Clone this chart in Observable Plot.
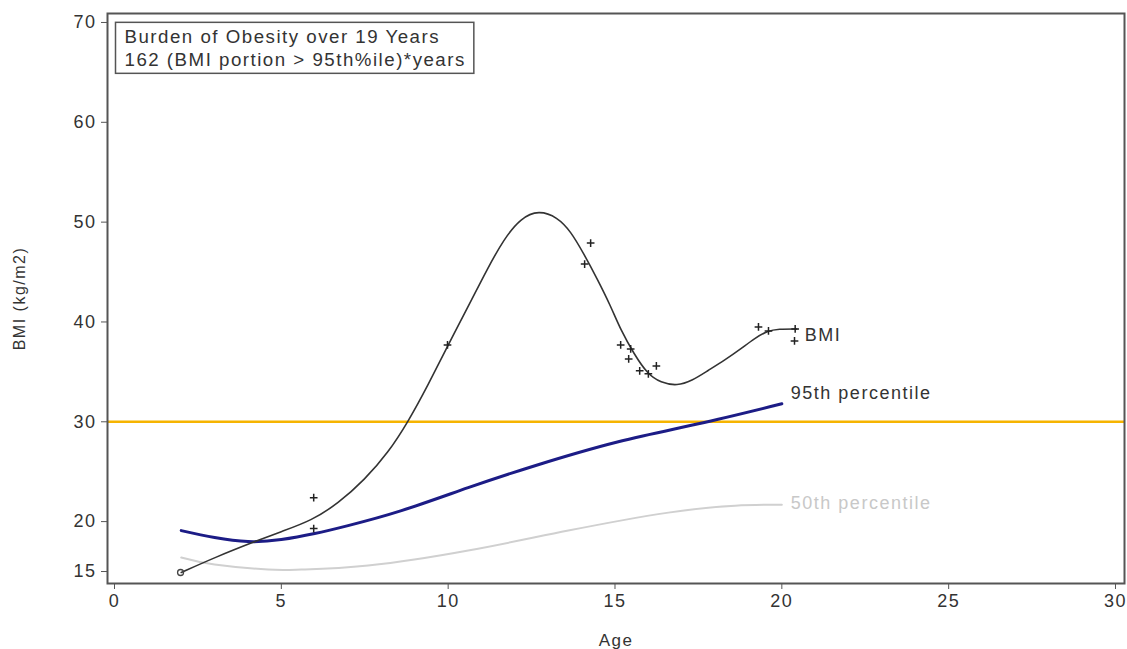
<!DOCTYPE html>
<html>
<head>
<meta charset="utf-8">
<script src="https://cdn.jsdelivr.net/npm/d3@7"></script>
<script src="https://cdn.jsdelivr.net/npm/@observablehq/plot@0.6"></script>
<style>
  html, body { margin: 0; padding: 0; background: #fff; }
  #chart svg { font-family: "Liberation Sans", Arial, sans-serif; }
</style>
</head>
<body>
<div id="chart"></div>
<script>
// BMI fitted curve (age, BMI)
const bmiCurveAge = [2.0, 3.0, 4.2, 5.0, 5.9, 6.7, 7.5, 8.2, 8.8, 9.4, 10.0, 10.67, 11.17, 11.67, 12.17, 12.72, 13.27, 13.67, 14.07, 14.47, 14.87, 15.17, 15.57, 15.97, 16.37, 16.87, 17.3, 17.77, 18.3, 18.77, 19.2, 19.57, 19.9, 20.45];
const bmiCurveVal = [14.9, 16.4, 18.0, 19.0, 20.1, 21.8, 24.2, 26.9, 30.0, 33.7, 37.7, 42.0, 45.3, 48.3, 50.4, 51.2, 50.5, 49.1, 46.8, 44.3, 41.6, 39.2, 36.8, 34.8, 33.9, 33.6, 34.1, 35.1, 36.2, 37.3, 38.4, 39.1, 39.3, 39.3];

// observed BMI measurements
const obsAge = [5.97, 5.97, 9.98, 14.09, 14.27, 15.17, 15.47, 15.41, 15.74, 16.0, 16.24, 19.3, 19.6, 20.4, 20.38];
const obsBMI = [22.4, 19.3, 37.7, 45.8, 47.9, 37.7, 37.3, 36.3, 35.1, 34.8, 35.6, 39.5, 39.1, 39.3, 38.1];
const firstAge = [1.98];
const firstBMI = [14.9];

// 95th percentile
const p95Age = [2.0, 3.0, 4.0, 5.0, 6.0, 7.0, 8.6, 10.6, 12.6, 15.1, 17.5, 20.0];
const p95Val = [19.1, 18.4, 18.0, 18.2, 18.8, 19.6, 21.1, 23.4, 25.6, 28.0, 29.8, 31.8];

// 50th percentile
const p50Age = [2.0, 3.0, 4.6, 5.6, 7.6, 10.6, 13.6, 16.6, 18.6, 20.0];
const p50Val = [16.4, 15.7, 15.2, 15.2, 15.6, 17.1, 19.1, 20.9, 21.6, 21.7];

const threshold = [30];
const xTicks = [0, 5, 10, 15, 20, 25, 30];
const yTicks = [15, 20, 30, 40, 50, 60, 70];
const annotation = "Burden of Obesity over 19 Years\n162 (BMI portion > 95th%ile)*years";

const zip = (a, b) => a.map((x, i) => ({age: x, v: b[i]}));
const bmiCurve = zip(bmiCurveAge, bmiCurveVal);
const obs = zip(obsAge, obsBMI);
const first = zip(firstAge, firstBMI);
const p95 = zip(p95Age, p95Val);
const p50 = zip(p50Age, p50Val);

const plot = Plot.plot({
  width: 1127,
  height: 649,
  marginTop: 13,
  marginRight: 3,
  marginBottom: 66,
  marginLeft: 107,
  style: {fontSize: "18px", letterSpacing: "1.5px", color: "#333", background: "#fff"},
  x: {domain: [-0.21, 30.27]},
  y: {domain: [13.8, 70.9]},
  marks: [
    Plot.ruleY(threshold, {stroke: "#f6b400", strokeWidth: 2.5}),
    Plot.line(p50, {x: "age", y: "v", stroke: "#d0d0d0", strokeWidth: 2, curve: "natural"}),
    Plot.line(p95, {x: "age", y: "v", stroke: "#1c1c86", strokeWidth: 3, curve: "natural"}),
    Plot.line(bmiCurve, {x: "age", y: "v", stroke: "#333", strokeWidth: 1.6, curve: "basis"}),
    Plot.dot(obs, {x: "age", y: "v", symbol: "plus", r: 2.6, stroke: "#222", strokeWidth: 1.5}),
    Plot.dot(first, {x: "age", y: "v", symbol: "circle", r: 3, fill: "none", stroke: "#444", strokeWidth: 1.3}),
    Plot.text(bmiCurve.slice(-1), {x: "age", y: "v", text: () => "BMI", textAnchor: "start", dx: 8, dy: 6, fill: "#333"}),
    Plot.text(p95.slice(-1), {x: "age", y: "v", text: () => "95th percentile", textAnchor: "start", dx: 9, dy: -11, fill: "#333"}),
    Plot.text(p50.slice(-1), {x: "age", y: "v", text: () => "50th percentile", textAnchor: "start", dx: 9, dy: -1, fill: "#c8c8c8"}),
    Plot.text([annotation], {frameAnchor: "top-left", lineAnchor: "top", textAnchor: "start", dx: 17, dy: 13.5, lineHeight: 1.23, fontSize: 18.7, fill: "#333", className: "anno"}),
    Plot.axisX({ticks: xTicks, tickSize: 6, tickPadding: 5, stroke: "#555", label: null}),
    Plot.axisX({ticks: [], tickSize: 0, label: "Age", labelAnchor: "center", labelArrow: "none", labelOffset: 62, fontSize: 17}),
    Plot.axisY({ticks: yTicks, tickSize: 6, tickPadding: 5, stroke: "#555", label: null}),
    Plot.axisY({ticks: [], tickSize: 0, label: "BMI (kg/m2)", labelAnchor: "center", labelArrow: "none", labelOffset: 94, fontSize: 16}),
    Plot.frame({stroke: "#555", strokeWidth: 2})
  ]
});

document.getElementById("chart").appendChild(plot);

// draw box around annotation
const g = plot.querySelector("g.anno");
if (g) {
  const t = g.querySelector("text");
  const bb = t.getBBox();
  const rect = document.createElementNS("http://www.w3.org/2000/svg", "rect");
  rect.setAttribute("x", bb.x - 9);
  rect.setAttribute("y", bb.y - 4);
  rect.setAttribute("width", bb.width + 17);
  rect.setAttribute("height", bb.height + 7);
  rect.setAttribute("fill", "none");
  rect.setAttribute("stroke", "#555");
  rect.setAttribute("stroke-width", 1.5);
  const tr = t.getAttribute("transform");
  if (tr) rect.setAttribute("transform", tr);
  g.insertBefore(rect, t);
}
</script>
</body>
</html>
